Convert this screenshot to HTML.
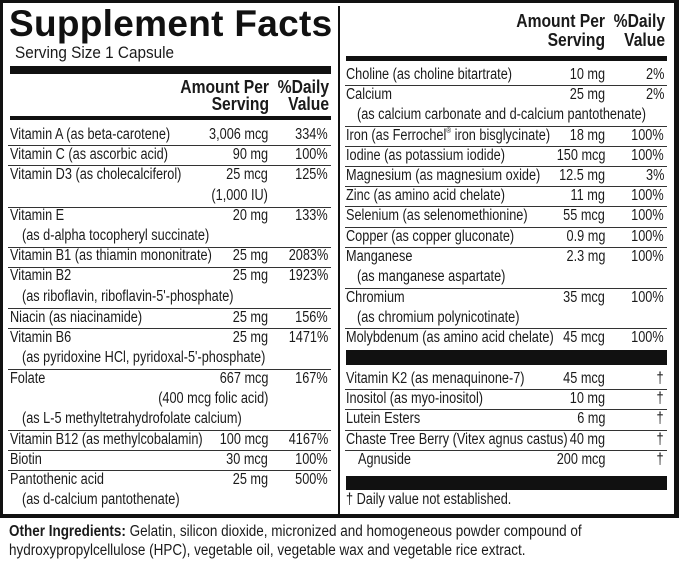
<!DOCTYPE html>
<html><head><meta charset="utf-8"><style>
*{margin:0;padding:0;box-sizing:border-box}
body{width:679px;height:562px;background:#fff;position:relative;overflow:hidden;font-family:"Liberation Sans",sans-serif;color:#1a1a1a}
.b{position:absolute;background:#111}
.l{position:absolute;height:1px;background:#333}
.t{position:absolute;font-size:15.5px;line-height:16px;white-space:nowrap;transform:scaleX(.82);transform-origin:left center}
.r{text-align:right;transform-origin:right center}
.h{position:absolute;font-weight:bold;font-size:18px;line-height:17px;text-align:right;white-space:nowrap;transform:scaleX(.87);transform-origin:right center}
sup{font-size:8px;vertical-align:top;line-height:0;position:relative;top:3px}
</style></head><body>
<div class="b" style="left:0;top:0;width:679px;height:3px"></div>
<div class="b" style="left:0;top:0;width:3px;height:518px"></div>
<div class="b" style="left:674px;top:0;width:5px;height:518px"></div>
<div class="b" style="left:0;top:514px;width:679px;height:4px"></div>
<div class="b" style="left:338px;top:6px;width:1.5px;height:508px"></div>

<div style="position:absolute;left:9px;top:4px;font-weight:bold;font-size:37px;line-height:40px;letter-spacing:0.3px;color:#111">Supplement Facts</div>
<div class="t" style="left:15px;top:44px;font-size:17px;line-height:18px;transform:scaleX(.9)">Serving Size 1 Capsule</div>
<div class="b" style="left:10px;top:66px;width:321px;height:8px"></div>
<div class="h" style="right:410px;top:79px">Amount Per</div>
<div class="h" style="right:350px;top:79px">%Daily</div>
<div class="h" style="right:410px;top:96px">Serving</div>
<div class="h" style="right:350px;top:96px">Value</div>
<div class="b" style="left:10px;top:116px;width:321px;height:4px"></div>

<div class="t" style="left:10px;top:127px">Vitamin A (as beta-carotene)</div>
<div class="t" style="left:10px;top:147px">Vitamin C (as ascorbic acid)</div>
<div class="t" style="left:10px;top:167px">Vitamin D3 (as cholecalciferol)</div>
<div class="t" style="left:10px;top:208px">Vitamin E</div>
<div class="t" style="left:22px;top:228px">(as d-alpha tocopheryl succinate)</div>
<div class="t" style="left:10px;top:248px">Vitamin B1 (as thiamin mononitrate)</div>
<div class="t" style="left:10px;top:268px">Vitamin B2</div>
<div class="t" style="left:22px;top:289px">(as riboflavin, riboflavin-5'-phosphate)</div>
<div class="t" style="left:10px;top:310px">Niacin (as niacinamide)</div>
<div class="t" style="left:10px;top:330px">Vitamin B6</div>
<div class="t" style="left:22px;top:350px">(as pyridoxine HCl, pyridoxal-5'-phosphate)</div>
<div class="t" style="left:10px;top:371px">Folate</div>
<div class="t" style="left:22px;top:411px">(as L-5 methyltetrahydrofolate calcium)</div>
<div class="t" style="left:10px;top:432px">Vitamin B12 (as methylcobalamin)</div>
<div class="t" style="left:10px;top:452px">Biotin</div>
<div class="t" style="left:10px;top:472px">Pantothenic acid</div>
<div class="t" style="left:22px;top:492px">(as d-calcium pantothenate)</div>

<div class="t r" style="right:411px;top:127px">3,006 mcg</div>
<div class="t r" style="right:411px;top:147px">90 mg</div>
<div class="t r" style="right:411px;top:167px">25 mcg</div>
<div class="t r" style="right:411px;top:188px">(1,000 IU)</div>
<div class="t r" style="right:411px;top:208px">20 mg</div>
<div class="t r" style="right:411px;top:248px">25 mg</div>
<div class="t r" style="right:411px;top:268px">25 mg</div>
<div class="t r" style="right:411px;top:310px">25 mg</div>
<div class="t r" style="right:411px;top:330px">25 mg</div>
<div class="t r" style="right:411px;top:371px">667 mcg</div>
<div class="t r" style="right:411px;top:391px">(400 mcg folic acid)</div>
<div class="t r" style="right:411px;top:432px">100 mcg</div>
<div class="t r" style="right:411px;top:452px">30 mcg</div>
<div class="t r" style="right:411px;top:472px">25 mg</div>

<div class="t r" style="right:351px;top:127px">334%</div>
<div class="t r" style="right:351px;top:147px">100%</div>
<div class="t r" style="right:351px;top:167px">125%</div>
<div class="t r" style="right:351px;top:208px">133%</div>
<div class="t r" style="right:351px;top:248px">2083%</div>
<div class="t r" style="right:351px;top:268px">1923%</div>
<div class="t r" style="right:351px;top:310px">156%</div>
<div class="t r" style="right:351px;top:330px">1471%</div>
<div class="t r" style="right:351px;top:371px">167%</div>
<div class="t r" style="right:351px;top:432px">4167%</div>
<div class="t r" style="right:351px;top:452px">100%</div>
<div class="t r" style="right:351px;top:472px">500%</div>

<div class="l" style="left:8px;width:323px;top:145px"></div>
<div class="l" style="left:8px;width:323px;top:165px"></div>
<div class="l" style="left:8px;width:323px;top:207px"></div>
<div class="l" style="left:8px;width:323px;top:247px"></div>
<div class="l" style="left:8px;width:323px;top:267px"></div>
<div class="l" style="left:8px;width:323px;top:308px"></div>
<div class="l" style="left:8px;width:323px;top:328px"></div>
<div class="l" style="left:8px;width:323px;top:369px"></div>
<div class="l" style="left:8px;width:323px;top:430px"></div>
<div class="l" style="left:8px;width:323px;top:450px"></div>
<div class="l" style="left:8px;width:323px;top:470px"></div>

<div class="h" style="right:74px;top:13px">Amount Per</div>
<div class="h" style="right:14px;top:13px">%Daily</div>
<div class="h" style="right:74px;top:32px">Serving</div>
<div class="h" style="right:14px;top:32px">Value</div>
<div class="b" style="left:346px;top:56px;width:321px;height:5px"></div>

<div class="t" style="left:346px;top:67px">Choline (as choline bitartrate)</div>
<div class="t" style="left:346px;top:87px">Calcium</div>
<div class="t" style="left:357px;top:107px">(as calcium carbonate and d-calcium pantothenate)</div>
<div class="t" style="left:346px;top:128px">Iron (as Ferrochel<sup>®</sup> iron bisglycinate)</div>
<div class="t" style="left:346px;top:148px">Iodine (as potassium iodide)</div>
<div class="t" style="left:346px;top:168px">Magnesium (as magnesium oxide)</div>
<div class="t" style="left:346px;top:188px">Zinc (as amino acid chelate)</div>
<div class="t" style="left:346px;top:208px">Selenium (as selenomethionine)</div>
<div class="t" style="left:346px;top:229px">Copper (as copper gluconate)</div>
<div class="t" style="left:346px;top:249px">Manganese</div>
<div class="t" style="left:357px;top:269px">(as manganese aspartate)</div>
<div class="t" style="left:346px;top:290px">Chromium</div>
<div class="t" style="left:357px;top:310px">(as chromium polynicotinate)</div>
<div class="t" style="left:346px;top:330px">Molybdenum (as amino acid chelate)</div>
<div class="t" style="left:346px;top:371px">Vitamin K2 (as menaquinone-7)</div>
<div class="t" style="left:346px;top:391px">Inositol (as myo-inositol)</div>
<div class="t" style="left:346px;top:411px">Lutein Esters</div>
<div class="t" style="left:346px;top:432px">Chaste Tree Berry (Vitex agnus castus)</div>
<div class="t" style="left:358px;top:452px">Agnuside</div>
<div class="t" style="left:346px;top:492px">† Daily value not established.</div>

<div class="t r" style="right:74px;top:67px">10 mg</div>
<div class="t r" style="right:74px;top:87px">25 mg</div>
<div class="t r" style="right:74px;top:128px">18 mg</div>
<div class="t r" style="right:74px;top:148px">150 mcg</div>
<div class="t r" style="right:74px;top:168px">12.5 mg</div>
<div class="t r" style="right:74px;top:188px">11 mg</div>
<div class="t r" style="right:74px;top:208px">55 mcg</div>
<div class="t r" style="right:74px;top:229px">0.9 mg</div>
<div class="t r" style="right:74px;top:249px">2.3 mg</div>
<div class="t r" style="right:74px;top:290px">35 mcg</div>
<div class="t r" style="right:74px;top:330px">45 mcg</div>
<div class="t r" style="right:74px;top:371px">45 mcg</div>
<div class="t r" style="right:74px;top:391px">10 mg</div>
<div class="t r" style="right:74px;top:411px">6 mg</div>
<div class="t r" style="right:74px;top:432px">40 mg</div>
<div class="t r" style="right:74px;top:452px">200 mcg</div>

<div class="t r" style="right:15px;top:67px">2%</div>
<div class="t r" style="right:15px;top:87px">2%</div>
<div class="t r" style="right:15px;top:128px">100%</div>
<div class="t r" style="right:15px;top:148px">100%</div>
<div class="t r" style="right:15px;top:168px">3%</div>
<div class="t r" style="right:15px;top:188px">100%</div>
<div class="t r" style="right:15px;top:208px">100%</div>
<div class="t r" style="right:15px;top:229px">100%</div>
<div class="t r" style="right:15px;top:249px">100%</div>
<div class="t r" style="right:15px;top:290px">100%</div>
<div class="t r" style="right:15px;top:330px">100%</div>
<div class="t r" style="right:15px;top:371px">†</div>
<div class="t r" style="right:15px;top:391px">†</div>
<div class="t r" style="right:15px;top:411px">†</div>
<div class="t r" style="right:15px;top:432px">†</div>
<div class="t r" style="right:15px;top:452px">†</div>

<div class="l" style="left:345px;width:322px;top:85px"></div>
<div class="l" style="left:345px;width:322px;top:126px"></div>
<div class="l" style="left:345px;width:322px;top:146px"></div>
<div class="l" style="left:345px;width:322px;top:166px"></div>
<div class="l" style="left:345px;width:322px;top:186px"></div>
<div class="l" style="left:345px;width:322px;top:206px"></div>
<div class="l" style="left:345px;width:322px;top:227px"></div>
<div class="l" style="left:345px;width:322px;top:247px"></div>
<div class="l" style="left:345px;width:322px;top:288px"></div>
<div class="l" style="left:345px;width:322px;top:328px"></div>
<div class="b" style="left:346px;top:350px;width:321px;height:15px"></div>
<div class="l" style="left:345px;width:322px;top:389px"></div>
<div class="l" style="left:345px;width:322px;top:409px"></div>
<div class="l" style="left:345px;width:322px;top:430px"></div>
<div class="l" style="left:345px;width:322px;top:450px"></div>
<div class="b" style="left:346px;top:476px;width:321px;height:14px"></div>

<div class="t" style="left:9px;top:524px;transform:scaleX(.87)"><b>Other Ingredients:</b> Gelatin, silicon dioxide, micronized and homogeneous powder compound of</div>
<div class="t" style="left:9px;top:543px;transform:scaleX(.87)">hydroxypropylcellulose (HPC), vegetable oil, vegetable wax and vegetable rice extract.</div>
</body></html>
